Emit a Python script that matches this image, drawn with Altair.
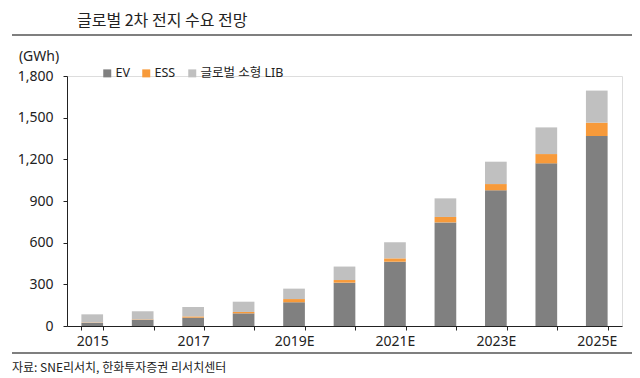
import altair as alt
import pandas as pd

years = ["2015", "2016", "2017", "2018", "2019E", "2020E", "2021E",
         "2022E", "2023E", "2024E", "2025E"]
shown_labels = ["2015", "2017", "2019E", "2021E", "2023E", "2025E"]
series = ["EV", "ESS", "글로벌 소형 LIB"]
ev = [22, 45, 60, 91, 171, 312, 463, 746, 977, 1171, 1368]
ess = [3, 3, 9, 10, 23, 19, 24, 39, 45, 67, 96]
small_lib = [59, 58, 68, 74, 75, 97, 116, 134, 161, 192, 231]
colors = ["#808080", "#f79a3a", "#c0c0c0"]

title_text = "글로벌 2차 전지 수요 전망"
unit_text = "(GWh)"
source_text = "자료: SNE리서치, 한화투자증권 리서치센터"

rows = []
for i, y in enumerate(years):
    for k, (name, vals) in enumerate(zip(series, [ev, ess, small_lib])):
        rows.append({"year": y, "series": name, "value": vals[i], "order": k})
df = pd.DataFrame(rows)

W, H = 555, 250
num_font = "Noto Sans, Noto Sans CJK KR"
kr_font = "Noto Sans CJK KR"

label_expr = "indexof(" + str(shown_labels) + ", datum.label) >= 0 ? datum.label : ''"

bars = alt.Chart(df).mark_bar().encode(
    x=alt.X("year:N", sort=years,
            scale=alt.Scale(paddingInner=0.57, paddingOuter=0.285),
            axis=alt.Axis(title=None, labelAngle=0, labelExpr=label_expr,
                          tickBand="extent", tickSize=4, labelPadding=4,
                          labelFont=num_font, labelFontSize=14, labelColor="#222222",
                          domainColor="#222222", tickColor="#222222",
                          labelFlush=False)),
    y=alt.Y("value:Q", stack="zero",
            scale=alt.Scale(domain=[0, 1800], nice=False),
            axis=alt.Axis(title=None, values=[0, 300, 600, 900, 1200, 1500, 1800],
                          format=",d", grid=False, tickSize=4, labelPadding=10,
                          labelFont=num_font, labelFontSize=14, labelColor="#222222",
                          domainColor="#222222", tickColor="#222222")),
    color=alt.Color("series:N", sort=series,
                    scale=alt.Scale(domain=series, range=colors),
                    legend=alt.Legend(title=None, orient="none", direction="horizontal",
                                      legendX=34, legendY=-9,
                                      symbolType="square", symbolSize=64,
                                      symbolStrokeWidth=0, symbolOpacity=1,
                                      labelFont=num_font, labelFontSize=12.5,
                                      labelColor="#222222", labelOffset=2,
                                      columnPadding=10)),
    order=alt.Order("order:Q"),
)

title = alt.Chart(pd.DataFrame({"t": [title_text]})).mark_text(
    align="left", baseline="middle", font=kr_font, fontSize=16, color="#222222"
).encode(text="t:N", x=alt.value(10), y=alt.value(-55))

unit = alt.Chart(pd.DataFrame({"t": [unit_text]})).mark_text(
    align="center", baseline="middle", font=num_font, fontSize=14, color="#222222"
).encode(text="t:N", x=alt.value(-28), y=alt.value(-19))

source = alt.Chart(pd.DataFrame({"t": [source_text]})).mark_text(
    align="left", baseline="middle", font=kr_font, fontSize=12, color="#222222"
).encode(text="t:N", x=alt.value(-55), y=alt.value(292))

top_rule = alt.Chart(pd.DataFrame({"a": [0]})).mark_rule(
    color="#555555", strokeWidth=1.5
).encode(x=alt.value(-55), x2=alt.value(565), y=alt.value(-41))

bottom_rule = alt.Chart(pd.DataFrame({"a": [0]})).mark_rule(
    color="#555555", strokeWidth=1.5
).encode(x=alt.value(-55), x2=alt.value(565), y=alt.value(277))

chart = alt.layer(bars, title, unit, source, top_rule, bottom_rule).properties(
    width=W, height=H,
    padding={"left": 59, "top": 68, "right": 10, "bottom": 52},
    autosize=alt.AutoSizeParams(type="none"),
).configure_view(stroke=None).configure(background="white")

chart.save("out.html", embed_options={"renderer": "svg", "actions": False})
